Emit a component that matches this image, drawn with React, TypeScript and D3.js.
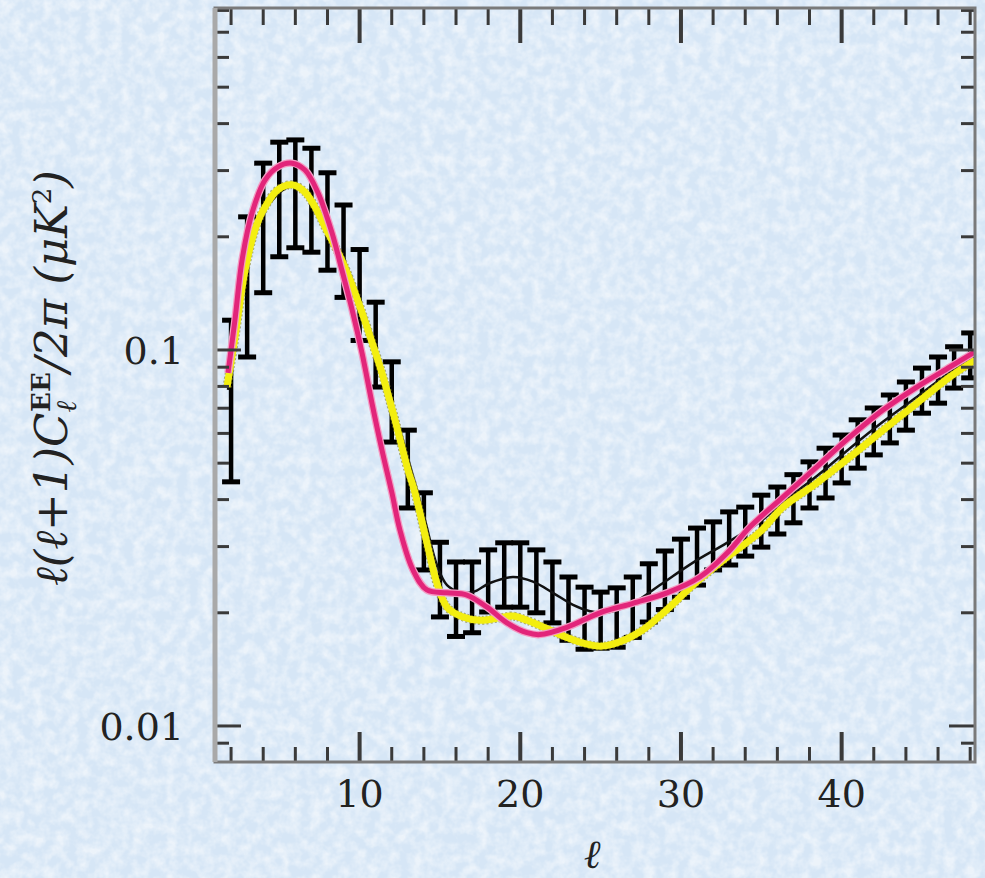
import React from "react";
import * as d3 from "d3";

const ells = [2,3,4,5,6,7,8,9,10,11,12,13,14,15,16,17,18,19,20,21,22,23,24,25,26,27,28,29,30,31,32,33,34,35,36,37,38,39,40,41,42,43,44,45,46,47,48];
const errLow = [0.0446,0.0958,0.142,0.177,0.187,0.182,0.163,0.138,0.106,0.0797,0.0569,0.038,0.026,0.0195,0.0173,0.0177,0.0201,0.0207,0.0207,0.02,0.0188,0.0169,0.016,0.0161,0.0162,0.0172,0.0189,0.0204,0.022,0.0237,0.026,0.0268,0.0283,0.0299,0.0324,0.0347,0.038,0.0404,0.0443,0.0485,0.0526,0.0566,0.0612,0.0679,0.0722,0.0792,0.0843];
const errHigh = [0.12,0.226,0.314,0.357,0.362,0.344,0.296,0.243,0.185,0.134,0.093,0.0612,0.0417,0.0308,0.0273,0.0273,0.0294,0.0307,0.0307,0.0294,0.0273,0.0249,0.0234,0.0227,0.0233,0.0249,0.027,0.0292,0.0314,0.0336,0.0349,0.0371,0.0382,0.0411,0.0432,0.0466,0.0504,0.0548,0.0594,0.0652,0.0701,0.0759,0.0822,0.0895,0.0958,0.102,0.111];

const yellowL = [1.75,2.24,2.87,3.49,4.11,4.92,5.79,6.6,7.22,8.03,8.9,9.71,10.52,11.39,12.2,13.01,13.45,14.19,14.81,15.44,16.43,17.49,18.73,19.54,20.42,21.85,22.9,24.15,24.96,25.77,27.45,29.13,30.75,32.86,34.91,36.35,38.46,40.52,42.57,44.68,46.74,48.3];
const yellowV = [0.0797,0.108,0.163,0.209,0.24,0.267,0.275,0.263,0.24,0.205,0.173,0.142,0.113,0.0869,0.0652,0.048,0.0417,0.0307,0.024,0.0207,0.0195,0.0191,0.0194,0.0196,0.0191,0.018,0.0172,0.0165,0.0163,0.0165,0.0178,0.0204,0.0237,0.0281,0.0328,0.0382,0.0443,0.0519,0.0612,0.0722,0.0848,0.094];

const pinkL = [1.81,2.24,2.68,3.3,4.11,4.92,5.79,6.6,7.41,8.28,8.9,9.53,10.15,10.77,11.39,12.01,12.51,13.32,14.19,15.44,16.68,17.93,19.17,20.42,21.22,22.9,24.96,27.01,29.13,31.18,32.86,34.29,36.35,38.46,40.52,42.57,44.68,46.74,48.3];
const pinkV = [0.0869,0.12,0.173,0.231,0.283,0.307,0.314,0.301,0.262,0.205,0.163,0.128,0.0982,0.0722,0.0542,0.0417,0.0332,0.026,0.023,0.0226,0.0223,0.0207,0.0188,0.0177,0.0175,0.0183,0.02,0.0212,0.0226,0.0249,0.0288,0.0338,0.0406,0.0489,0.0587,0.0692,0.0797,0.0901,0.0988];

const blackL = [1.81,2.87,4.11,5.79,7.22,8.9,10.52,11.39,12.2,13.13,14.07,14.81,15.44,16.25,17.06,18.11,19.54,20.79,22.03,23.28,24.34,25.27,27.01,28.69,30.75,32.86,34.91,36.35,38.46,40.52,42.57,44.68,46.74,48.3];
const blackV = [0.0783,0.158,0.236,0.272,0.243,0.179,0.117,0.0895,0.0679,0.0494,0.0353,0.0268,0.0237,0.0227,0.0227,0.024,0.0249,0.0242,0.0226,0.021,0.0202,0.02,0.0212,0.0237,0.0272,0.0307,0.0349,0.0394,0.0462,0.0548,0.0644,0.075,0.0873,0.0964];

const xMajorTicks = [10, 20, 30, 40];
const xMinorTicks = [2,4,6,8,12,14,16,18,22,24,26,28,32,34,36,38,42,44,46,48];
const yMajorTicks = [0.01, 0.1];
const yMinorTicks = [0.009,0.02,0.03,0.04,0.05,0.06,0.07,0.08,0.09,0.2,0.3,0.4,0.5,0.6,0.7,0.8];

const W = 985, H = 878;
const L = 215, R = 975, T = 8, B = 762;

export default function App() {
  const x = d3.scaleLinear().domain([1, 48.3]).range([L, R]);
  const y = d3.scaleLog().domain([0.00802, 0.812]).range([B, T]);
  const mk = (ls: number[], vs: number[]) =>
    d3.line<number>().x((_, i) => x(ls[i])).y((v) => y(v)).curve(d3.curveCatmullRom.alpha(0.5))(vs) || "";
  const yellowPath = mk(yellowL, yellowV);
  const pinkPath = mk(pinkL, pinkV);
  const blackPath = mk(blackL, blackV);
  const tickCol = "#3a3a3a";
  const serif = "'DejaVu Serif', 'Liberation Serif', serif";
  return (
    <svg width={W} height={H} style={{ position: "absolute", left: 0, top: 0 }}>
      <defs>
        <filter id="noise" x="0" y="0" width="100%" height="100%">
          <feTurbulence type="fractalNoise" baseFrequency="0.09" numOctaves="3" seed="4" />
          <feColorMatrix type="matrix" values="0 0 0 0 1  0 0 0 0 1  0 0 0 0 1  0 0 0 -2.2 1.45" />
        </filter>
        <clipPath id="plot">
          <rect x={L} y={T} width={R - L} height={B - T} />
        </clipPath>
      </defs>
      <rect x={0} y={0} width={W} height={H} fill="#d6e6f6" />
      <rect x={0} y={0} width={W} height={H} filter="url(#noise)" opacity={0.55} />

      <g clipPath="url(#plot)">
        {ells.map((l, i) => {
          const cx = x(l);
          const y1 = y(errHigh[i]);
          const y2 = y(errLow[i]);
          return (
            <g key={l} stroke="#000">
              <line x1={cx} x2={cx} y1={y1} y2={y2} strokeWidth={4.5} />
              <line x1={cx - 9} x2={cx + 9} y1={y1} y2={y1} strokeWidth={5} />
              <line x1={cx - 9} x2={cx + 9} y1={y2} y2={y2} strokeWidth={5} />
            </g>
          );
        })}
        <path d={blackPath} fill="none" stroke="#111" strokeWidth={2.5} />
        <path d={yellowPath} fill="none" stroke="#7f7a20" strokeWidth={9} strokeDasharray="2 2" opacity={0.6} />
        <path d={yellowPath} fill="none" stroke="#f3ee10" strokeWidth={7} />
        <path d={pinkPath} fill="none" stroke="#f49cc3" strokeWidth={7.5} />
        <path d={pinkPath} fill="none" stroke="#e2257a" strokeWidth={5} />
      </g>

      {/* ticks */}
      <g stroke={tickCol} strokeWidth={3}>
        {xMinorTicks.map((t) => (
          <g key={"xm" + t}>
            <line x1={x(t)} x2={x(t)} y1={B} y2={B - 15} />
            <line x1={x(t)} x2={x(t)} y1={T} y2={T + 17} />
          </g>
        ))}
        {xMajorTicks.map((t) => (
          <g key={"xM" + t}>
            <line x1={x(t)} x2={x(t)} y1={B} y2={B - 30} strokeWidth={4} />
            <line x1={x(t)} x2={x(t)} y1={T} y2={T + 35} strokeWidth={4} />
          </g>
        ))}
        {yMinorTicks.map((t) => (
          <g key={"ym" + t}>
            <line x1={L} x2={L + 14} y1={y(t)} y2={y(t)} />
            <line x1={R} x2={R - 14} y1={y(t)} y2={y(t)} />
          </g>
        ))}
        {yMajorTicks.map((t) => (
          <g key={"yM" + t}>
            <line x1={L} x2={L + 26} y1={y(t)} y2={y(t)} />
            <line x1={R} x2={R - 26} y1={y(t)} y2={y(t)} />
          </g>
        ))}
      </g>

      {/* frame */}
      <rect x={L} y={T} width={R - L} height={B - T} fill="none" stroke="#7a7a7a" strokeWidth={3} />
      <line x1={L} x2={L} y1={T} y2={B} stroke="#a9a9a9" strokeWidth={5} />

      {/* tick labels */}
      <g fontFamily={serif} fontSize={38} fill="#222">
        {xMajorTicks.map((t) => (
          <text key={"xl" + t} x={x(t)} y={807} textAnchor="middle">{t}</text>
        ))}
        {yMajorTicks.map((t) => (
          <text key={"yl" + t} x={184} y={y(t) + 14} textAnchor="end">{String(t)}</text>
        ))}
      </g>

      {/* axis titles */}
      <text x={592} y={868} fontFamily={serif} fontStyle="italic" fontSize={40} textAnchor="middle" fill="#222">ℓ</text>
      <text transform="translate(67,378) rotate(-90)" fontFamily={serif} fontStyle="italic" fontSize={45} textAnchor="middle" fill="#222">
        <tspan>ℓ(ℓ+1)C</tspan>
        <tspan fontSize={28} dy={9}>ℓ</tspan>
        <tspan fontSize={26} dy={-26} dx={-11} fontStyle="normal" fontWeight="bold">EE</tspan>
        <tspan dy={17}>/2π (μK</tspan>
        <tspan fontSize={26} dy={-16} fontStyle="normal">2</tspan>
        <tspan dy={16}>)</tspan>
      </text>
    </svg>
  );
}
